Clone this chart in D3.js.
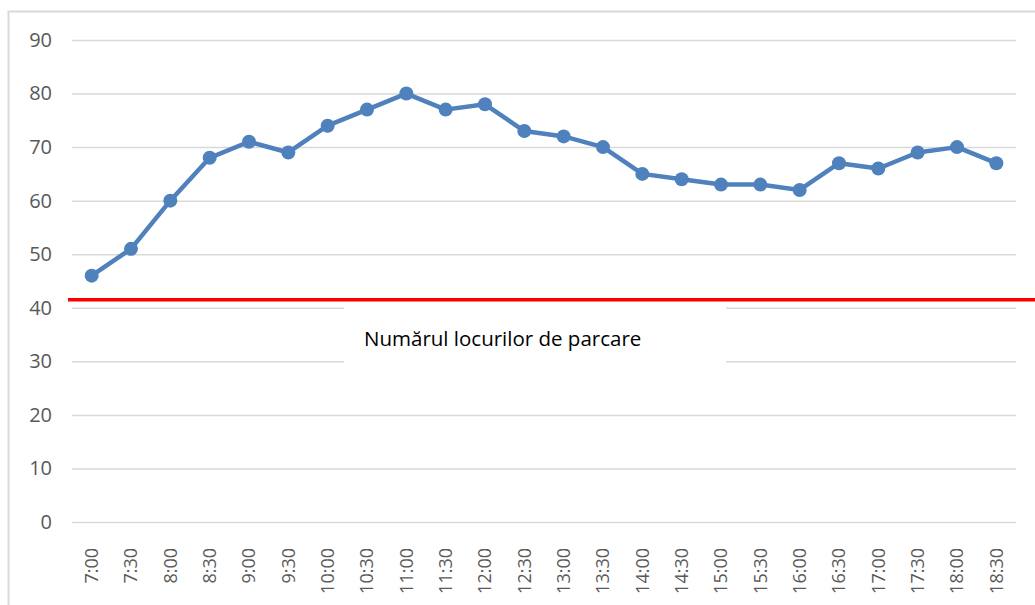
<!DOCTYPE html>
<html>
<head>
<meta charset="utf-8">
<script src="https://cdn.jsdelivr.net/npm/d3@7"></script>
<style>
  body { margin: 0; background: #fff; }
  svg { display: block; font-family: "Open Sans", "Noto Sans", sans-serif; }
</style>
</head>
<body>
<script>
// Chart data
const times = ['7:00', '7:30', '8:00', '8:30', '9:00', '9:30', '10:00', '10:30', '11:00', '11:30',
    '12:00', '12:30', '13:00', '13:30', '14:00', '14:30', '15:00', '15:30', '16:00', '16:30',
    '17:00', '17:30', '18:00', '18:30'];
const cars = [46, 51, 60, 68, 71, 69, 74, 77, 80, 77, 78, 73, 72, 70, 65, 64, 63, 63, 62, 67, 66, 69, 70, 67];
const yTicks = [0, 10, 20, 30, 40, 50, 60, 70, 80, 90];
const parkingSpots = 41.5;
const parkingLabel = 'Numărul locurilor de parcare';

const W = 1035, H = 605;
const margin = { top: 40, right: 19, bottom: 83, left: 72 };
const width = W - margin.left - margin.right;
const height = H - margin.top - margin.bottom;

const svg = d3.select('body').append('svg')
    .attr('width', W)
    .attr('height', H);

// Chart area border
svg.append('rect')
    .attr('x', 8.5).attr('y', 11.5)
    .attr('width', W).attr('height', H)
    .attr('fill', 'none')
    .attr('stroke', '#d9d9d9')
    .attr('stroke-width', 2);

const g = svg.append('g')
    .attr('transform', `translate(${margin.left},${margin.top})`);

const x = d3.scaleBand()
    .domain(times)
    .range([0, width]);

const y = d3.scaleLinear()
    .domain([0, 90])
    .range([height, 0]);

// Gridlines + y labels
const yAxis = g.append('g')
    .call(d3.axisLeft(y).tickValues(yTicks).tickSize(-width).tickPadding(20))
    .attr('font-family', null);
yAxis.select('.domain').remove();
yAxis.selectAll('.tick line').attr('stroke', '#d9d9d9').attr('stroke-width', 1.5);
yAxis.selectAll('.tick text')
    .attr('fill', '#595959')
    .attr('font-size', 20);

// X axis labels (rotated)
const xAxis = g.append('g')
    .attr('transform', `translate(0,${height})`)
    .call(d3.axisBottom(x).tickSize(0))
    .attr('font-family', null);
xAxis.select('.domain').remove();
xAxis.selectAll('.tick text')
    .attr('fill', '#595959')
    .attr('font-size', 18)
    .attr('transform', 'rotate(-90)')
    .attr('text-anchor', 'end')
    .attr('x', -26)
    .attr('y', 0)
    .attr('dy', '0.35em');

// Series line
const line = d3.line()
    .x((d, i) => x(times[i]) + x.bandwidth() / 2)
    .y(d => y(d));

g.append('path')
    .datum(cars)
    .attr('fill', 'none')
    .attr('stroke', '#4f81bd')
    .attr('stroke-width', 4.5)
    .attr('stroke-linejoin', 'round')
    .attr('d', line);

g.selectAll('.dot')
    .data(cars)
    .enter()
    .append('circle')
    .attr('cx', (d, i) => x(times[i]) + x.bandwidth() / 2)
    .attr('cy', d => y(d))
    .attr('r', 7)
    .attr('fill', '#4f81bd');

// Parking capacity line
g.append('line')
    .attr('x1', -4)
    .attr('x2', W)
    .attr('y1', y(parkingSpots))
    .attr('y2', y(parkingSpots))
    .attr('stroke', '#ff0000')
    .attr('stroke-width', 3.5);

// Label box
const labelBox = g.append('g')
    .attr('transform', `translate(272,${y(parkingSpots) + 6})`);
labelBox.append('rect')
    .attr('width', 382)
    .attr('height', 60)
    .attr('fill', '#fff');
labelBox.append('text')
    .attr('x', 20)
    .attr('y', 40)
    .attr('fill', '#000')
    .attr('font-size', 20.5)
    .text(parkingLabel);
</script>
</body>
</html>
